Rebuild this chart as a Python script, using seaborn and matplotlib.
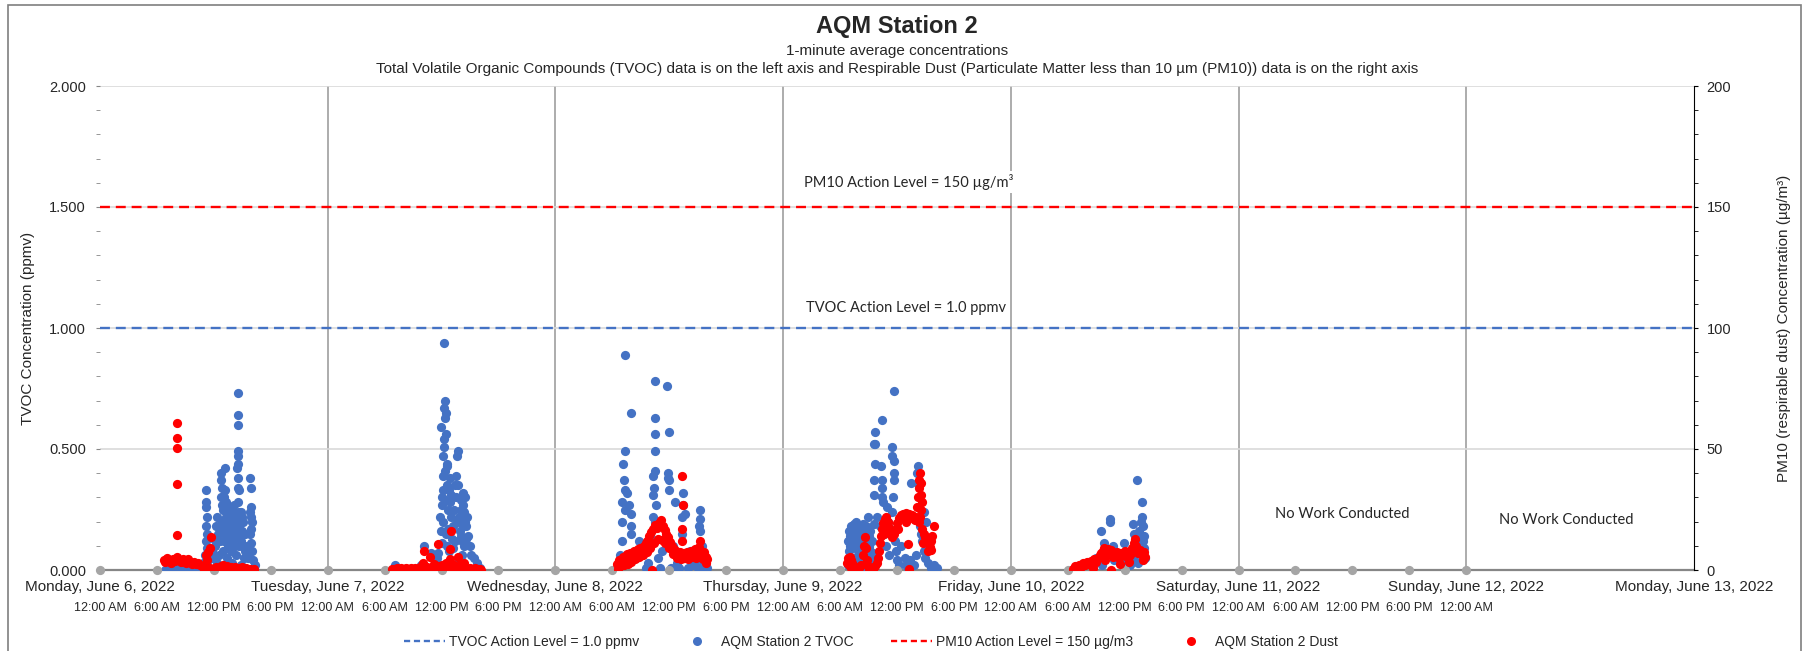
import pandas as pd
import matplotlib.pyplot as plt
import matplotlib.dates as mdates
import matplotlib.ticker as mticker
from matplotlib.lines import Line2D
from matplotlib.patches import Rectangle
import seaborn as sns

# (hour of the day, TVOC ppmv), one list per working day
mon_tvoc = [(6.8, 0.00), (7.3, 0.01), (7.8, 0.00), (8.3, 0.01), (8.8, 0.00), (9.3, 0.01), (9.8, 0.00),
            (10.3, 0.01), (10.6, 0.02), (10.9, 0.03),
            (11.2, 0.33), (11.2, 0.28), (11.2, 0.26), (11.3, 0.22), (11.2, 0.18), (11.3, 0.15), (11.2, 0.12),
            (11.3, 0.09), (11.1, 0.06), (11.4, 0.04), (11.8, 0.08), (11.9, 0.05), (12.0, 0.13), (12.1, 0.10),
            (12.2, 0.18), (12.3, 0.22), (12.4, 0.15), (12.5, 0.06),
            (12.8, 0.40), (12.8, 0.37), (12.9, 0.34), (12.8, 0.30), (12.9, 0.27), (13.0, 0.25), (12.9, 0.20),
            (13.0, 0.17), (13.1, 0.12), (13.0, 0.08), (13.2, 0.42), (13.2, 0.33), (13.3, 0.28), (13.3, 0.22),
            (13.4, 0.19), (13.3, 0.14), (13.5, 0.10), (13.4, 0.05), (13.6, 0.26), (13.7, 0.24), (13.8, 0.21),
            (13.7, 0.17), (13.9, 0.25), (13.9, 0.19), (14.0, 0.13), (14.0, 0.24), (14.1, 0.20), (14.2, 0.16),
            (14.2, 0.10), (14.3, 0.06),
            (14.5, 0.73), (14.5, 0.64), (14.5, 0.60), (14.5, 0.49), (14.5, 0.47), (14.5, 0.44), (14.4, 0.42),
            (14.5, 0.38), (14.5, 0.34), (14.6, 0.33), (14.5, 0.28), (14.6, 0.24), (14.7, 0.22), (14.6, 0.18),
            (14.8, 0.20), (14.8, 0.14), (14.9, 0.24), (15.0, 0.22), (15.0, 0.16), (15.1, 0.10), (15.2, 0.05),
            (15.3, 0.08),
            (15.8, 0.38), (15.9, 0.34), (15.9, 0.26), (15.8, 0.24), (15.9, 0.22), (16.0, 0.20), (15.9, 0.17),
            (15.8, 0.15), (15.9, 0.11), (16.0, 0.08), (16.1, 0.04), (16.3, 0.02),
            (12.6, 0.12), (12.7, 0.18), (13.1, 0.30), (13.5, 0.15), (13.6, 0.11), (13.8, 0.08), (14.1, 0.27),
            (14.3, 0.22), (14.3, 0.14), (14.7, 0.10), (14.9, 0.12), (15.1, 0.20), (15.3, 0.15), (15.5, 0.10),
            (12.3, 0.03), (13.9, 0.03), (14.9, 0.02), (15.6, 0.05)]

tue_tvoc = [(12.3, 0.94), (12.4, 0.70), (12.3, 0.67), (12.5, 0.65), (12.4, 0.63), (11.9, 0.59), (12.5, 0.56),
            (12.3, 0.54), (12.3, 0.51), (13.7, 0.49), (13.6, 0.47), (12.2, 0.47), (12.6, 0.44), (12.4, 0.41),
            (12.6, 0.43), (13.5, 0.39), (12.2, 0.39), (12.6, 0.35), (13.7, 0.35), (12.8, 0.33), (12.0, 0.30),
            (14.5, 0.30), (12.0, 0.27), (12.9, 0.28), (14.3, 0.27), (14.0, 0.25), (14.4, 0.24), (11.8, 0.22),
            (13.0, 0.22), (14.1, 0.21), (14.5, 0.20), (12.2, 0.20), (13.2, 0.18), (14.6, 0.18), (11.9, 0.16),
            (12.5, 0.15), (14.0, 0.14), (14.8, 0.14), (13.4, 0.12), (12.0, 0.11), (14.4, 0.10), (15.0, 0.10),
            (10.2, 0.10), (10.9, 0.07), (12.8, 0.08), (14.2, 0.06), (15.1, 0.06), (15.4, 0.05), (11.5, 0.05),
            (13.8, 0.04), (15.7, 0.03), (7.1, 0.02), (9.8, 0.02), (16.0, 0.01), (13.1, 0.13), (13.3, 0.25),
            (13.9, 0.16), (14.7, 0.22), (12.7, 0.25), (12.4, 0.29), (12.2, 0.33), (13.6, 0.20), (14.2, 0.12),
            (11.6, 0.07), (12.6, 0.10), (14.3, 0.32), (14.1, 0.29), (13.0, 0.31),
            (12.9, 0.38), (13.5, 0.30), (13.8, 0.22), (14.2, 0.19), (13.2, 0.09), (14.6, 0.13), (12.7, 0.17),
            (13.4, 0.35)]

wed_tvoc = [(7.3, 0.89), (10.5, 0.78), (11.8, 0.76), (8.0, 0.65), (10.5, 0.63), (10.5, 0.56), (12.0, 0.57),
            (7.3, 0.49), (10.5, 0.49), (7.1, 0.44), (10.5, 0.41), (10.3, 0.39), (11.9, 0.40), (11.9, 0.38),
            (12.0, 0.37), (13.4, 0.32), (7.3, 0.33), (7.5, 0.32), (7.0, 0.28), (7.8, 0.27), (10.3, 0.31),
            (10.6, 0.27), (12.6, 0.28), (13.7, 0.23), (15.2, 0.25), (7.3, 0.25), (8.0, 0.23), (7.0, 0.20),
            (8.0, 0.18), (10.3, 0.22), (10.5, 0.20), (15.1, 0.18), (13.3, 0.15), (15.2, 0.16), (7.0, 0.12),
            (8.8, 0.12), (8.0, 0.15), (10.0, 0.14), (11.5, 0.13), (12.4, 0.10), (14.2, 0.08), (15.5, 0.10),
            (6.8, 0.06), (7.6, 0.04), (8.5, 0.05), (9.2, 0.07), (9.8, 0.03), (10.8, 0.05), (11.2, 0.08),
            (12.8, 0.03), (13.5, 0.05), (14.8, 0.04), (15.6, 0.02), (16.0, 0.01), (6.6, 0.01), (9.5, 0.01),
            (11.0, 0.01), (12.2, 0.01), (13.0, 0.01), (14.0, 0.01), (14.5, 0.02), (15.0, 0.01), (15.8, 0.00),
            (13.4, 0.27), (13.3, 0.22), (15.2, 0.21), (12.0, 0.33), (7.2, 0.37), (10.4, 0.34)]

thu_tvoc = [(6.8, 0.02), (6.9, 0.08), (7.0, 0.14), (7.1, 0.05), (7.2, 0.18), (7.3, 0.11), (7.4, 0.03),
            (7.5, 0.19), (7.5, 0.15), (7.6, 0.09), (7.7, 0.20), (7.8, 0.13), (7.9, 0.06), (8.0, 0.17),
            (8.1, 0.10), (8.2, 0.04), (8.3, 0.15), (8.4, 0.08), (8.5, 0.12), (8.6, 0.02), (8.7, 0.18),
            (8.8, 0.06), (8.9, 0.22), (9.0, 0.14), (9.1, 0.09), (9.2, 0.16), (9.3, 0.03), (9.4, 0.12),
            (9.5, 0.07), (9.6, 0.19), (6.9, 0.16), (7.3, 0.01), (8.0, 0.01), (8.7, 0.01), (9.3, 0.12),
            (9.5, 0.01),
            (9.7, 0.57), (9.6, 0.52), (9.7, 0.52), (9.7, 0.44), (9.6, 0.37), (9.6, 0.31), (10.4, 0.62),
            (10.3, 0.43), (10.4, 0.37), (10.4, 0.34), (10.4, 0.30), (10.5, 0.28), (10.9, 0.26), (11.7, 0.74),
            (11.5, 0.51), (11.5, 0.47), (11.7, 0.45), (11.7, 0.40), (11.7, 0.37), (11.6, 0.30), (11.5, 0.24),
            (9.9, 0.22), (10.2, 0.18), (10.6, 0.15), (11.0, 0.20), (11.3, 0.17), (11.8, 0.12), (11.9, 0.08),
            (13.5, 0.36), (14.2, 0.43), (14.1, 0.40), (14.3, 0.35), (15.1, 0.20), (14.8, 0.24), (12.4, 0.10),
            (12.8, 0.05), (13.0, 0.02), (13.4, 0.04), (13.8, 0.02), (14.5, 0.15), (14.6, 0.12), (14.8, 0.08),
            (15.0, 0.05), (15.3, 0.03), (15.6, 0.01), (15.9, 0.02), (16.2, 0.01), (13.2, 0.01), (12.2, 0.02),
            (14.0, 0.06), (14.4, 0.18), (15.4, 0.10), (10.8, 0.10), (11.2, 0.06), (12.0, 0.04),
            (7.0, 0.10), (7.4, 0.16), (7.8, 0.18), (8.2, 0.12), (8.6, 0.16), (9.0, 0.10), (8.4, 0.19),
            (7.6, 0.05), (9.4, 0.05), (6.8, 0.12)]

fri_tvoc = [(13.3, 0.37), (13.85, 0.28), (13.85, 0.22), (13.9, 0.18), (10.5, 0.21), (10.5, 0.20), (9.5, 0.16),
            (11.9, 0.11), (12.9, 0.19), (13.0, 0.15), (9.8, 0.11), (13.5, 0.16), (13.7, 0.13), (13.9, 0.12),
            (14.0, 0.09), (13.6, 0.08), (12.4, 0.07), (11.2, 0.06), (10.2, 0.07), (9.0, 0.05), (8.4, 0.03),
            (7.6, 0.02), (12.0, 0.04), (12.8, 0.05), (13.2, 0.10), (10.9, 0.04), (11.6, 0.03), (14.1, 0.05),
            (13.4, 0.03), (12.6, 0.02), (9.6, 0.02), (10.8, 0.10), (13.7, 0.20), (14.0, 0.14), (13.1, 0.06)]

# (hour of the day, PM10 ug/m3)
mon_dust = [(8.1, 60.9), (8.1, 54.4), (8.1, 50.3), (8.1, 35.5), (8.1, 14.5),
            (6.7, 4.0), (6.9, 3.2), (7.1, 5.0), (7.3, 4.2), (7.5, 3.0), (7.7, 4.6), (7.9, 3.6), (8.1, 5.2),
            (8.3, 4.0), (8.5, 3.2), (8.7, 4.4), (8.9, 3.8), (9.1, 3.0), (9.3, 4.4), (9.5, 3.4), (9.7, 2.6),
            (9.9, 3.2), (10.1, 2.4), (10.3, 2.8), (10.5, 2.0), (10.7, 1.6), (10.9, 1.2),
            (11.75, 13.8), (11.4, 7.6), (11.2, 6.2), (11.6, 9.0), (11.3, 4.0),
            (11.0, 0.8), (11.3, 0.4), (11.6, 1.0), (11.9, 0.5), (12.2, 1.2), (12.5, 0.6), (12.8, 1.6),
            (13.0, 2.0), (13.2, 1.0), (13.4, 1.8), (13.6, 0.8), (13.8, 1.4), (14.0, 0.6), (14.2, 1.2),
            (14.4, 0.4), (14.6, 1.0), (14.8, 0.5), (15.0, 1.2), (15.2, 0.3), (15.4, 0.8), (15.6, 0.2),
            (15.8, 0.6), (16.0, 0.2), (16.2, 0.4)]

tue_dust = [(6.8, 0.6), (7.0, 0.3), (7.25, 0.8), (7.5, 0.4), (7.75, 0.9), (8.0, 0.3), (8.25, 0.7), (8.5, 0.5),
            (8.75, 1.0), (9.0, 0.4), (9.25, 0.8), (9.5, 0.3), (9.75, 1.1), (10.0, 0.5), (10.25, 0.9),
            (10.5, 1.4), (10.75, 0.6), (11.0, 1.2), (11.25, 0.5), (11.5, 1.6), (11.75, 0.8), (12.0, 1.3),
            (12.25, 0.6), (12.5, 1.5), (12.75, 0.9), (13.0, 1.2), (13.25, 0.5), (13.5, 1.4), (13.75, 0.7),
            (14.0, 1.1), (14.25, 0.4), (14.5, 0.9), (14.75, 0.5), (15.0, 0.8), (15.25, 0.3), (15.5, 0.7),
            (15.75, 0.4), (16.0, 0.6), (16.2, 0.2),
            (13.0, 16.1), (11.6, 10.9), (12.9, 8.6), (10.2, 7.7), (10.8, 5.2), (12.9, 4.4), (13.7, 5.2),
            (10.0, 3.0), (11.2, 2.6), (14.4, 3.0), (12.0, 2.2), (13.3, 2.0), (14.0, 2.4), (12.5, 3.0),
            (11.8, 1.8)]

wed_dust = [(6.5, 2.5), (6.7, 4.0), (6.9, 3.0), (7.1, 5.5), (7.3, 4.5), (7.5, 6.5), (7.7, 5.0), (7.9, 7.0),
            (8.1, 6.0), (8.3, 8.0), (8.5, 7.0), (8.7, 8.5), (8.9, 9.0), (9.1, 8.0), (9.3, 10.0), (9.5, 11.0),
            (9.7, 12.0), (9.9, 14.0), (10.1, 15.5), (10.3, 17.0), (10.5, 18.5), (10.7, 17.5), (10.9, 19.5),
            (11.1, 20.5), (11.3, 18.0), (11.5, 16.5), (11.7, 15.0), (11.9, 13.5), (12.1, 11.5), (12.3, 10.0),
            (12.5, 8.5), (12.7, 8.0), (12.9, 7.0), (13.1, 7.5), (13.3, 6.5), (13.5, 7.0), (13.7, 6.0),
            (13.9, 7.5), (14.1, 6.5), (14.3, 8.0), (14.5, 7.0), (14.7, 8.5), (14.9, 7.0), (15.1, 9.5),
            (15.3, 8.0), (15.5, 6.5), (15.7, 7.5), (15.9, 5.5), (16.0, 4.5),
            (6.6, 0.5), (6.8, 1.5), (7.2, 2.0), (7.6, 2.5), (8.0, 3.5), (8.4, 4.5), (8.8, 5.5), (9.2, 6.0),
            (9.6, 7.5), (10.0, 9.0), (10.4, 11.0), (10.8, 13.0), (11.2, 12.5), (11.6, 11.0), (12.0, 9.0),
            (12.4, 6.5), (12.8, 5.0), (13.2, 4.5), (13.6, 5.0), (14.0, 4.5), (14.4, 5.5), (14.8, 5.0),
            (15.2, 5.5), (15.6, 4.5), (15.9, 3.0),
            (13.3, 38.8), (13.4, 26.7), (13.3, 16.9), (13.3, 12.1), (10.2, 0.0), (15.2, 12.0)]

thu_dust = [(6.7, 3.0), (6.8, 5.0), (6.9, 2.0), (7.0, 5.5), (7.1, 4.0), (7.2, 1.0), (7.3, 3.0), (7.4, 0.5),
            (7.5, 1.5), (7.6, 0.5), (7.8, 0.5), (8.0, 1.0), (8.2, 2.0), (8.4, 6.0), (8.5, 10.0), (8.6, 13.8),
            (8.7, 9.0), (8.8, 4.0), (8.9, 1.5), (9.1, 0.5), (9.3, 1.0), (9.5, 0.5), (9.7, 1.5), (9.9, 3.0),
            (10.0, 5.0), (10.1, 8.0), (10.2, 11.0), (10.3, 14.0), (10.4, 17.0), (10.5, 19.5), (10.7, 21.0),
            (10.85, 22.0), (11.0, 20.0), (11.1, 18.0), (11.3, 15.5), (11.5, 13.8), (11.7, 15.0), (11.85, 17.0),
            (12.0, 19.5), (12.2, 21.5), (12.4, 22.7), (12.6, 23.2), (12.9, 23.4), (13.1, 22.5), (13.3, 23.0),
            (13.6, 22.7), (13.8, 21.0), (13.9, 20.6), (14.0, 22.0), (14.1, 26.0), (14.2, 30.0), (14.3, 34.0),
            (14.35, 37.0), (14.4, 39.9), (14.5, 36.0), (14.55, 31.0), (14.6, 28.0), (14.5, 25.0), (14.4, 22.0),
            (14.3, 20.0), (14.6, 17.0), (14.8, 15.0), (15.0, 13.8), (15.2, 12.5), (15.4, 11.0), (15.5, 9.5),
            (15.6, 12.0), (15.7, 14.0), (15.9, 18.0), (15.6, 8.3), (13.2, 10.6), (13.3, 0.3),
            (10.6, 15.0), (12.1, 17.0), (13.0, 20.0), (14.7, 11.0), (15.3, 8.0)]

fri_dust = [(6.6, 0.5), (6.8, 1.5), (7.0, 0.8), (7.2, 2.0), (7.4, 1.2), (7.6, 2.8), (7.8, 2.0), (8.0, 3.2),
            (8.2, 2.5), (8.4, 3.8), (8.6, 3.0), (8.8, 4.5), (9.0, 3.5), (9.2, 5.0), (9.4, 6.0), (9.5, 6.9),
            (9.7, 8.0), (9.8, 9.0), (10.0, 7.0), (10.2, 8.5), (10.4, 6.5), (10.6, 8.3), (10.8, 5.5), (11.0, 7.0),
            (11.2, 7.6), (11.4, 5.0), (11.6, 7.0), (11.8, 6.0), (12.0, 8.0), (12.2, 5.5), (12.4, 7.0),
            (12.6, 6.0), (12.8, 9.0), (13.0, 11.0), (13.1, 13.0), (13.2, 10.0), (13.4, 7.0), (13.6, 8.3),
            (13.8, 6.0), (13.9, 4.0), (14.0, 7.5), (14.1, 5.5), (10.6, 0.2), (11.5, 2.5), (12.5, 3.5),
            (9.9, 4.0), (8.7, 1.0)]

days = ['2022-06-06', '2022-06-07', '2022-06-08', '2022-06-09', '2022-06-10']
tvoc_action = 1.0
pm10_action = 150


def day_frame(day, pairs, col):
    df = pd.DataFrame(pairs, columns=['hour', col])
    df['time'] = pd.Timestamp(day) + pd.to_timedelta(df['hour'], unit='h')
    return df


tvoc_df = pd.concat([day_frame(d, p, 'ppmv') for d, p in
                     zip(days, [mon_tvoc, tue_tvoc, wed_tvoc, thu_tvoc, fri_tvoc])])
dust_df = pd.concat([day_frame(d, p, 'dust') for d, p in
                     zip(days, [mon_dust, tue_dust, wed_dust, thu_dust, fri_dust])])

start = pd.Timestamp('2022-06-06')
end = pd.Timestamp('2022-06-13')
last_label = pd.Timestamp('2022-06-12')
axis_dots = pd.DataFrame({'time': pd.date_range(start, last_label, freq='6h')})
axis_dots['ppmv'] = 0.0

sns.set_style('white')
plt.rcParams['font.family'] = ['Liberation Sans', 'DejaVu Sans']

blue = '#4472C4'
red = '#FF0000'
gray = '#868686'

fig = plt.figure(figsize=(18.03, 6.51), dpi=100)
ax = fig.add_axes([100 / 1803, 81 / 651, 1594 / 1803, 484 / 651])
ax2 = ax.twinx()

sns.scatterplot(data=tvoc_df, x='time', y='ppmv', ax=ax, color=blue, s=44, linewidth=0, zorder=3)
sns.scatterplot(data=axis_dots, x='time', y='ppmv', ax=ax, color='#A5A5A5', s=44, linewidth=0,
                zorder=4, clip_on=False)
sns.scatterplot(data=dust_df, x='time', y='dust', ax=ax2, color=red, s=44, linewidth=0, zorder=3)

ax.axhline(tvoc_action, color=blue, lw=1.7, dashes=(4.2, 2.5), zorder=2)
ax2.axhline(pm10_action, color=red, lw=1.7, dashes=(4.2, 2.5), zorder=2)

ax.set_xlim(start, end)
ax.set_ylim(0, 2)
ax2.set_ylim(0, 200)

# grid
ax.set_axisbelow(True)
ax.yaxis.grid(True, color='#D9D9D9', lw=1.2)
for d in pd.date_range('2022-06-07', '2022-06-12', freq='D'):
    ax.axvline(d, color='#A6A6A6', lw=1.3, zorder=0.5)

# x axis: day names and 6-hour labels
ax.xaxis.remove_overlapping_locs = False
ax.xaxis.set_major_locator(mdates.DayLocator())
ax.xaxis.set_major_formatter(mticker.FuncFormatter(
    lambda x, pos: mdates.num2date(x).strftime('%A, %B %-d, %Y')))
six_hours = pd.date_range(start, end, freq='6h')
ax.xaxis.set_minor_locator(mticker.FixedLocator(mdates.date2num(six_hours)))
cut = mdates.date2num(last_label) + 0.01
ax.xaxis.set_minor_formatter(mticker.FuncFormatter(
    lambda x, pos: mdates.num2date(x).strftime('%-I:%M %p') if x <= cut else ''))
ax.tick_params(axis='x', which='major', length=0, pad=7, labelsize=11)
ax.tick_params(axis='x', which='minor', direction='in', length=3, color=gray, pad=23, labelsize=9)

# y axes
ax.yaxis.set_major_locator(mticker.MultipleLocator(0.5))
ax.yaxis.set_minor_locator(mticker.MultipleLocator(0.1))
ax.yaxis.set_major_formatter(mticker.FormatStrFormatter('%.3f'))
ax.tick_params(axis='y', which='both', direction='out', length=3, color=gray, pad=7, labelsize=10.5)
ax2.yaxis.set_major_locator(mticker.MultipleLocator(50))
ax2.yaxis.set_minor_locator(mticker.MultipleLocator(10))
ax2.tick_params(axis='y', which='both', direction='out', length=3, color='black', pad=6, labelsize=10.5)

ax.set_xlabel('')
ax.set_ylabel('TVOC Concentration (ppmv)', fontsize=11)
ax.yaxis.set_label_coords(-0.041, 0.5)
ax2.set_ylabel('PM10 (respirable dust) Concentration (µg/m³)', fontsize=11)
ax2.yaxis.set_label_coords(1.052, 0.5)

for s in ['left', 'top', 'right']:
    ax.spines[s].set_visible(False)
ax.spines['bottom'].set_color(gray)
ax.spines['bottom'].set_linewidth(1.6)
for s in ['left', 'top', 'bottom']:
    ax2.spines[s].set_visible(False)
ax2.spines['right'].set_color('black')
ax2.spines['right'].set_linewidth(0.8)

# annotations
note_font = ['Lato', 'DejaVu Sans']
box = dict(facecolor='white', edgecolor='none', pad=2)
ax.text(mdates.date2num(pd.Timestamp('2022-06-09 02:10')), 1.603, 'PM10 Action Level = 150 µg/m³',
        family=note_font, fontsize=10.5, ha='left', va='center', bbox=box, zorder=1)
ax.text(mdates.date2num(pd.Timestamp('2022-06-09 02:25')), 1.083, 'TVOC Action Level = 1.0 ppmv',
        family=note_font, fontsize=10.5, ha='left', va='center', bbox=box, zorder=1)
ax.text(mdates.date2num(pd.Timestamp('2022-06-11 10:55')), 0.231, 'No Work Conducted',
        family=note_font, fontsize=10.5, ha='center', va='center')
ax.text(mdates.date2num(pd.Timestamp('2022-06-12 10:30')), 0.207, 'No Work Conducted',
        family=note_font, fontsize=10.5, ha='center', va='center')

# titles
cx = 897 / 1803
fig.text(cx, 1 - 27 / 651, 'AQM Station 2', ha='center', va='center', fontsize=17, fontweight='bold')
fig.text(cx, 1 - 51 / 651, '1-minute average concentrations', ha='center', va='center', fontsize=11)
fig.text(cx, 1 - 69 / 651,
         'Total Volatile Organic Compounds (TVOC) data is on the left axis and Respirable Dust '
         '(Particulate Matter less than 10 µm (PM10)) data is on the right axis',
         ha='center', va='center', fontsize=11)

# legend
handles = [Line2D([], [], color=blue, lw=1.7, dashes=(2.6, 1.6)),
           Line2D([], [], color=blue, ls='none', marker='o', markersize=6.5, markeredgewidth=0),
           Line2D([], [], color=red, lw=1.7, dashes=(2.6, 1.6)),
           Line2D([], [], color=red, ls='none', marker='o', markersize=6.5, markeredgewidth=0)]
labels = ['TVOC Action Level = 1.0 ppmv', 'AQM Station 2 TVOC',
          'PM10 Action Level = 150 µg/m3', 'AQM Station 2 Dust']
fig.legend(handles, labels, loc='center', bbox_to_anchor=(871 / 1803, 1 - 642 / 651), ncol=4,
           frameon=False, fontsize=10, handlelength=2.95, handletextpad=0.25, columnspacing=2.7)

# chart border
fig.patches.append(Rectangle((8 / 1803, -0.05), 1793 / 1803, 1.05 - 5 / 651, transform=fig.transFigure,
                             facecolor='none', edgecolor='#7F7F7F', lw=1.2))

fig.savefig('out.png', dpi=100)
